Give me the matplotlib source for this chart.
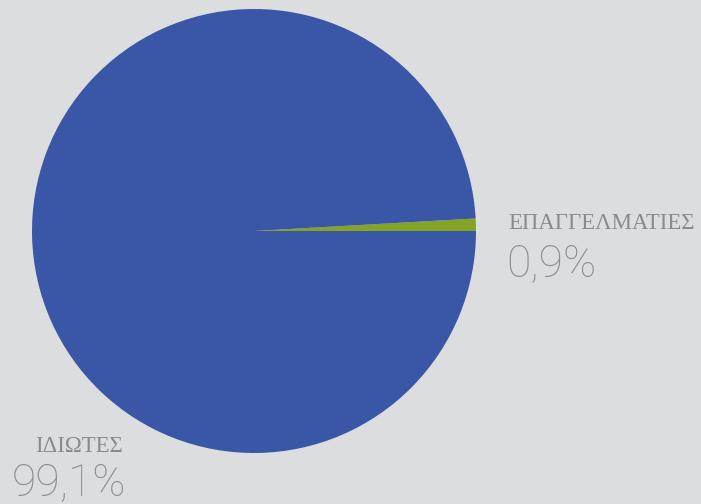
import matplotlib.pyplot as plt

labels = ['ΕΠΑΓΓΕΛΜΑΤΙΕΣ', 'ΙΔΙΩΤΕΣ']
values = [0.9, 99.1]
pct_text = ['0,9%', '99,1%']
colors = ['#84a426', '#3a56a6']

bg = '#dcdddf'
fig = plt.figure(figsize=(7.01, 5.04), dpi=100, facecolor=bg)

W, H = 701, 504
cx, cy, r = 254, 231, 222
ax = fig.add_axes([(cx - r) / W, (H - cy - r) / H, 2 * r / W, 2 * r / H])
ax.set_facecolor(bg)
ax.pie(values, colors=colors, startangle=0, counterclock=True,
       wedgeprops=dict(linewidth=0))
ax.set_xlim(-1, 1)
ax.set_ylim(-1, 1)
ax.set_aspect('equal')
ax.axis('off')

name_kw = dict(family='Liberation Serif', color='#8a8a8a', fontsize=16.4)
pct_kw = dict(family='Roboto', weight='light', color='#8e8e8e', fontsize=32)

# label positions (pixel coords from top-left)
fig.text(508 / W, 1 - 229 / H, labels[0], va='baseline', ha='left', **name_kw)
fig.text(506 / W, 1 - 277 / H, pct_text[0], va='baseline', ha='left', **pct_kw)
fig.text(35 / W, 1 - 452 / H, labels[1], va='baseline', ha='left', **name_kw)
fig.text(12 / W, 1 - 496 / H, pct_text[1], va='baseline', ha='left', **pct_kw)

fig.savefig('out.png', dpi=100, facecolor=bg)
